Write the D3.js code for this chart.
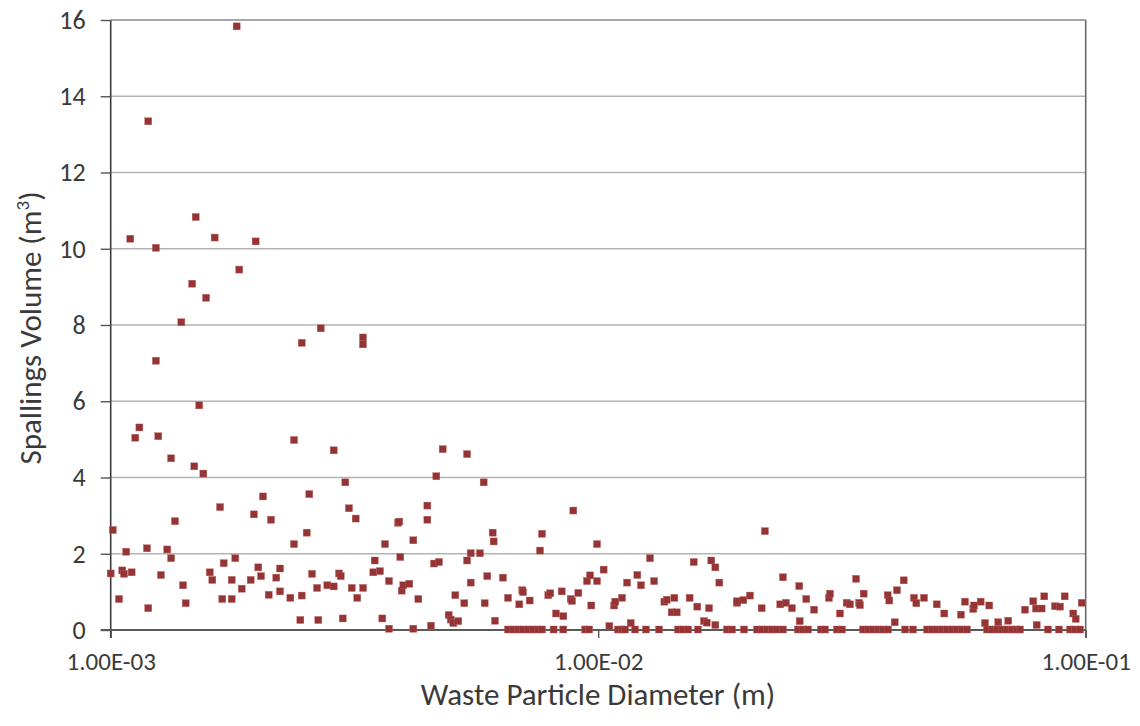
<!DOCTYPE html>
<html>
<head>
<meta charset="utf-8">
<script src="https://cdn.jsdelivr.net/npm/d3@7"></script>
<style>
  html, body { margin: 0; padding: 0; background: #fff; }
  svg { display: block; }
  text { font-family: Carlito, Calibri, Lato, "Open Sans", sans-serif; fill: #3a3a3a; }
</style>
</head>
<body>
<svg id="chart" width="1140" height="726"></svg>
<script>
// ---- Data (diameter in m, spallings volume in m^3) ----
const diameters = [
  1.00e-3,1.01e-3,1.04e-3,1.056e-3,1.065e-3,1.076e-3,1.097e-3,1.104e-3,1.123e-3,1.145e-3,
  1.187e-3,1.194e-3,1.194e-3,1.238e-3,1.238e-3,1.252e-3,1.268e-3,1.306e-3,1.330e-3,1.330e-3,
  1.355e-3,1.396e-3,1.407e-3,1.425e-3,1.469e-3,1.484e-3,1.494e-3,1.519e-3,1.549e-3,1.569e-3,
  1.597e-3,1.616e-3,1.634e-3,1.676e-3,1.694e-3,1.705e-3,1.771e-3,1.771e-3,1.801e-3,1.813e-3,
  1.835e-3,1.857e-3,1.937e-3,1.967e-3,1.983e-3,2.008e-3,2.034e-3,2.053e-3,2.109e-3,2.132e-3,
  2.186e-3,2.225e-3,2.225e-3,2.336e-3,2.377e-3,2.377e-3,2.449e-3,2.465e-3,2.465e-3,2.524e-3,
  2.555e-3,2.588e-3,2.650e-3,2.666e-3,2.697e-3,2.782e-3,2.867e-3,2.867e-3,2.940e-3,2.964e-3,
  2.992e-3,3.029e-3,3.082e-3,3.122e-3,3.181e-3,3.205e-3,3.292e-3,3.292e-3,3.294e-3,3.457e-3,
  3.480e-3,3.568e-3,3.607e-3,3.653e-3,3.723e-3,3.723e-3,3.885e-3,3.908e-3,3.927e-3,3.953e-3,
  3.983e-3,4.098e-3,4.176e-3,4.176e-3,4.276e-3,4.462e-3,4.462e-3,4.539e-3,4.605e-3,4.655e-3,
  4.714e-3,4.797e-3,4.935e-3,4.982e-3,5.044e-3,5.092e-3,5.164e-3,5.313e-3,5.382e-3,5.382e-3,
  5.477e-3,5.477e-3,5.721e-3,5.822e-3,5.850e-3,5.922e-3,6.075e-3,6.103e-3,6.141e-3,6.377e-3,
  6.531e-3,6.888e-3,6.987e-3,7.010e-3,7.236e-3,7.597e-3,7.669e-3,7.900e-3,7.975e-3,8.193e-3,
  8.417e-3,8.481e-3,8.783e-3,8.838e-3,8.891e-3,9.104e-3,9.484e-3,9.621e-3,9.679e-3,9.943e-3,
  9.943e-3,1.026e-2,1.054e-2,1.078e-2,1.084e-2,1.119e-2,1.146e-2,1.166e-2,1.203e-2,1.224e-2,
  1.277e-2,1.302e-2,1.367e-2,1.382e-2,1.415e-2,1.433e-2,1.449e-2,1.540e-2,1.570e-2,1.597e-2,
  1.648e-2,1.670e-2,1.688e-2,1.706e-2,1.739e-2,1.739e-2,1.772e-2,1.926e-2,1.927e-2,1.985e-2,
  2.048e-2,2.164e-2,2.198e-2,2.363e-2,2.393e-2,2.427e-2,2.497e-2,2.585e-2,2.590e-2,2.672e-2,
  2.772e-2,2.974e-2,2.989e-2,3.133e-2,3.234e-2,3.285e-2,3.380e-2,3.428e-2,3.443e-2,3.504e-2,
  3.925e-2,3.955e-2,4.057e-2,4.101e-2,4.233e-2,4.444e-2,4.493e-2,4.659e-2,4.948e-2,5.128e-2,
  5.548e-2,5.654e-2,5.880e-2,5.900e-2,6.089e-2,6.214e-2,6.341e-2,6.617e-2,6.937e-2,7.507e-2,
  7.806e-2,7.907e-2,7.933e-2,8.121e-2,8.223e-2,8.650e-2,8.857e-2,9.055e-2,9.431e-2,9.539e-2,
  9.813e-2
];
const volumes = [
  1.47,2.61,0.80,1.55,1.46,2.04,10.25,1.50,5.03,5.30,
  2.13,13.33,0.56,10.01,7.05,5.07,1.43,2.10,4.49,1.87,
  2.84,8.06,1.16,0.69,9.07,4.28,10.82,5.88,4.09,8.70,
  1.50,1.30,10.28,3.21,0.80,1.74,1.30,0.80,1.87,15.82,
  9.44,1.07,1.30,3.02,10.18,1.63,1.40,3.49,0.91,2.88,
  1.36,1.60,1.00,0.83,4.97,2.24,0.25,7.52,0.89,2.54,
  3.55,1.46,1.09,0.25,7.90,1.16,1.13,4.70,1.47,1.40,
  0.29,3.86,3.18,1.09,2.91,0.83,7.66,7.48,1.09,1.50,
  1.81,1.53,0.29,2.24,1.27,0.02,2.80,2.83,1.90,1.02,
  1.16,1.20,2.34,0.02,0.80,3.25,2.88,0.10,1.73,4.02,
  1.77,4.73,0.38,0.26,0.17,0.90,0.22,0.69,4.60,1.81,
  2.00,1.23,2.00,3.86,0.69,1.40,2.54,2.31,0.23,1.36,
  0.83,0.66,1.03,0.98,0.76,2.07,2.51,0.90,0.95,0.42,
  1.00,0.35,0.80,0.75,3.12,0.96,1.27,1.42,0.63,1.27,
  2.24,1.57,0.09,0.63,0.73,0.83,1.23,0.17,1.43,1.16,
  1.87,1.27,0.73,0.78,0.45,0.83,0.45,0.83,1.77,0.60,
  0.22,0.18,0.56,1.81,1.63,0.12,1.23,0.70,0.74,0.77,
  0.89,0.56,2.58,0.66,1.37,0.70,0.56,1.14,0.22,0.80,
  0.52,0.83,0.94,0.42,0.70,0.66,1.33,0.70,0.64,0.94,
  0.90,0.76,0.19,1.03,1.29,0.83,0.69,0.83,0.66,0.42,
  0.39,0.73,0.54,0.63,0.73,0.17,0.63,0.19,0.23,0.52,
  0.74,0.55,0.12,0.55,0.87,0.61,0.60,0.87,0.42,0.28,
  0.70
];
// Realizations with zero spallings volume
const zeroDiameters = [
  6.53e-3,6.69e-3,6.85e-3,7.01e-3,7.19e-3,7.35e-3,7.53e-3,7.67e-3,8.10e-3,8.48e-3,
  9.40e-3,9.58e-3,1.098e-2,1.119e-2,1.135e-2,1.190e-2,1.253e-2,1.333e-2,1.458e-2,1.493e-2,
  1.529e-2,1.602e-2,1.837e-2,1.881e-2,1.991e-2,2.118e-2,2.168e-2,2.220e-2,2.273e-2,2.327e-2,
  2.393e-2,2.569e-2,2.631e-2,2.694e-2,2.864e-2,2.919e-2,3.089e-2,3.163e-2,3.493e-2,3.576e-2,
  3.662e-2,3.750e-2,3.839e-2,3.931e-2,4.260e-2,4.423e-2,4.726e-2,4.839e-2,4.955e-2,5.073e-2,
  5.194e-2,5.318e-2,5.445e-2,5.575e-2,5.709e-2,6.275e-2,6.425e-2,6.578e-2,6.735e-2,6.896e-2,
  7.062e-2,7.229e-2,7.333e-2,8.369e-2,8.815e-2,9.286e-2,9.506e-2,9.734e-2
];
const yTicks = [0,2,4,6,8,10,12,14,16];
const xTicks = [1e-3, 1e-2, 1e-1];
const xTickLabels = ["1.00E-03", "1.00E-02", "1.00E-01"];
const xTitle = "Waste Particle Diameter (m)";
const yTitle = "Spallings Volume (m";

// ---- Layout ----
const svg = d3.select("#chart");
const mLeft = 110.7, mRight = 1085.7, mTop = 20, mBottom = 630;
const x = d3.scaleLog().domain([1e-3, 1e-1]).range([mLeft, mRight]);
const y = d3.scaleLinear().domain([0, 16]).range([mBottom, mTop]);

const points = diameters.map((d, i) => ({d, v: volumes[i]}))
  .concat(zeroDiameters.map(d => ({d, v: 0})));

// gridlines
svg.append("g").selectAll("line").data(yTicks.filter(t => t > 0)).join("line")
  .attr("x1", mLeft).attr("x2", mRight)
  .attr("y1", d => y(d)).attr("y2", d => y(d))
  .attr("stroke", d => d === 16 ? "#8a8a8a" : "#b4b4b4")
  .attr("stroke-width", 1.6);

// right border
svg.append("line").attr("x1", mRight).attr("x2", mRight)
  .attr("y1", mTop).attr("y2", mBottom + 8)
  .attr("stroke", "#6a6a6a").attr("stroke-width", 1.6);

// y axis
const yAxis = svg.append("g").attr("transform", `translate(${mLeft},0)`)
  .call(d3.axisLeft(y).tickValues(yTicks).tickSize(10).tickPadding(15).tickFormat(d3.format("d")));
yAxis.attr("font-size", null).attr("font-family", null);
yAxis.select(".domain").attr("stroke", "#3c3c3c").attr("stroke-width", 1.6)
  .attr("d", `M0,${mTop}V${mBottom + 8}`);
yAxis.selectAll(".tick line").attr("stroke", "#555").attr("stroke-width", 1.4);
yAxis.selectAll(".tick text").style("font-size", "26px").attr("fill", "#3a3a3a");

// x axis
const xAxis = svg.append("g").attr("transform", `translate(0,${mBottom})`)
  .call(d3.axisBottom(x).tickValues(xTicks).tickSize(8).tickPadding(14)
    .tickFormat((d, i) => xTickLabels[i]));
xAxis.attr("font-size", null).attr("font-family", null);
xAxis.select(".domain").attr("stroke", "#5a5a5a").attr("stroke-width", 1.8)
  .attr("d", `M${mLeft - 10},0H${mRight}`);
xAxis.selectAll(".tick line").attr("stroke", "#555").attr("stroke-width", 1.4);
xAxis.selectAll(".tick text").style("font-size", "25px").attr("fill", "#3a3a3a");

// points
const s = 7;
svg.append("g").selectAll("rect").data(points).join("rect")
  .attr("x", p => x(p.d) - s / 2)
  .attr("y", p => y(p.v) - s / 2 - 0.5)
  .attr("width", s).attr("height", s)
  .attr("fill", "#943434")
  .attr("stroke", "#b86060").attr("stroke-width", 0.4);

// axis titles
svg.append("text").attr("x", 598).attr("y", 705)
  .attr("text-anchor", "middle").style("font-size", "31px").text(xTitle);

const yt = svg.append("text").attr("transform", `translate(41,${(mTop + mBottom) / 2 + 3}) rotate(-90)`)
  .attr("text-anchor", "middle").style("font-size", "31px");
yt.append("tspan").text(yTitle);
yt.append("tspan").style("font-size", "19px").attr("dy", -12).text("3");
yt.append("tspan").attr("dy", 12).text(")");
</script>
</body>
</html>
